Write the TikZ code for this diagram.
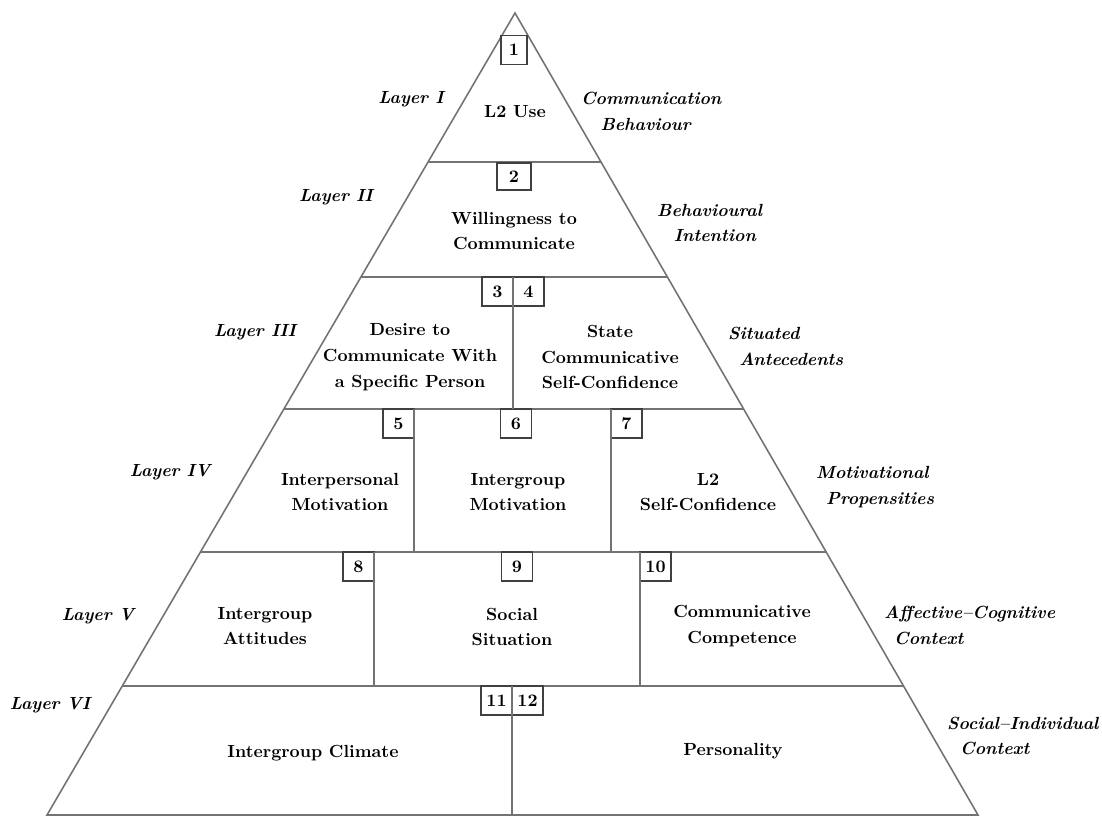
\documentclass[tikz,border=0pt]{standalone}
\usepackage{tikz}
\usetikzlibrary{calc,positioning}

\begin{document}
\begin{tikzpicture}[
  x=0.02cm, y=-0.02cm,
  sep/.style={draw=black!55, line width=0.9pt},
  box/.style={draw=black!75, line width=0.8pt, outer sep=0pt, inner sep=0pt,
    minimum width=0.62cm, minimum height=0.58cm, font=\fontsize{10}{12}\selectfont\bfseries},
  txt/.style={align=center, font=\fontsize{10}{14.7}\selectfont\bfseries},
  lyr/.style={font=\fontsize{10}{12}\selectfont\bfseries\itshape},
  ctx/.style={anchor=west, align=left, font=\fontsize{10}{14.7}\selectfont\bfseries\itshape}
  ]
  \useasboundingbox (0,0) rectangle (1102,817);

  % Pyramid outline
  \coordinate (top) at (515,13);
  \coordinate (bl) at (47,815);
  \coordinate (br) at (978,815);
  \draw[sep] (top) -- (bl) -- (br) -- cycle;

  % Layer borders
  \coordinate (L1) at ($(top)!0.1858!(bl)$);
  \coordinate (R1) at ($(top)!0.1858!(br)$);
  \coordinate (L2) at ($(top)!0.3292!(bl)$);
  \coordinate (R2) at ($(top)!0.3292!(br)$);
  \coordinate (L3) at ($(top)!0.4938!(bl)$);
  \coordinate (R3) at ($(top)!0.4938!(br)$);
  \coordinate (L4) at ($(top)!0.6721!(bl)$);
  \coordinate (R4) at ($(top)!0.6721!(br)$);
  \coordinate (L5) at ($(top)!0.8392!(bl)$);
  \coordinate (R5) at ($(top)!0.8392!(br)$);
  \draw[sep] (L1) -- (R1);
  \draw[sep] (L2) -- (R2);
  \draw[sep] (L3) -- (R3);
  \draw[sep] (L4) -- (R4);
  \draw[sep] (L5) -- (R5);

  % Numbered boxes
  \node[box, minimum width=0.52cm] (n1) at (514,50) {1};
  \node[box, anchor=north, minimum width=0.68cm, minimum height=0.54cm] (n2) at (514,163) {2};
  \node[box, anchor=north east] (n3) at (513,277) {3};
  \node[box, anchor=north west] (n4) at (513,277) {4};
  \node[box, anchor=north east] (n5) at (414,409) {5};
  \node[box, anchor=north] (n6) at (516,409) {6};
  \node[box, anchor=north west] (n7) at (611,409) {7};
  \node[box, anchor=north east] (n8) at (374,552) {8};
  \node[box, anchor=north] (n9) at (517,552) {9};
  \node[box, anchor=north west] (n10) at (640,552) {10};
  \node[box, anchor=north east] (n11) at (512,686) {11};
  \node[box, anchor=north west] (n12) at (512,686) {12};

  % Dividers
  \draw[sep] (n3.north east) -- (n3.north east |- L3);
  \draw[sep] (n5.north east) -- (n5.north east |- L4);
  \draw[sep] (n7.north west) -- (n7.north west |- L4);
  \draw[sep] (n8.north east) -- (n8.north east |- L5);
  \draw[sep] (n10.north west) -- (n10.north west |- L5);
  \draw[sep] (n11.north east) -- (n11.north east |- bl);

  % Contents
  \node[txt] (use) at (515,112) {L2 Use};
  \node[txt] (wtc) at (514,231) {Willingness to\\Communicate};
  \node[txt] (desire) at (410,357) {Desire to\\Communicate With\\a Specific Person};
  \node[txt] (state) at (610,357) {State\\Communicative\\Self-Confidence};
  \node[txt] (inter) at (340,492) {Interpersonal\\Motivation};
  \node[txt] (group) at (518,492) {Intergroup\\Motivation};
  \node[txt] (conf) at (708,492) {L2\\Self-Confidence};
  \node[txt] (att) at (265,626) {Intergroup\\Attitudes};
  \node[txt] (sit) at (512,627) {Social\\Situation};
  \node[txt] (comp) at (742,626) {Communicative\\Competence};
  \node[txt] (clim) at (313,753) {Intergroup Climate};
  \node[txt] (pers) at (733,751) {Personality};

  % Layers
  \node[lyr] (l1) at (411,99) {Layer I};
  \node[lyr] (l2) at (336,197) {Layer II};
  \node[lyr] (l3) at (255,332) {Layer III};
  \node[lyr] (l4) at (170,472) {Layer IV};
  \node[lyr] (l5) at (98,616) {Layer V};
  \node[lyr] (l6) at (50,705) {Layer VI};

  % Contexts
  \node[ctx] (c1) at (575,111) {Communication\\\hspace*{11pt}Behaviour};
  \node[ctx] (c2) at (651,223) {Behavioural\\\hspace*{9.5pt}Intention};
  \node[ctx] (c3) at (722,346) {Situated\\\hspace*{6.3pt}Antecedents};
  \node[ctx] (c4) at (810,487) {Motivational\\\hspace*{5.7pt}Propensities};
  \node[ctx] (c5) at (878,625) {Affective--Cognitive\\\hspace*{5.7pt}Context};
  \node[ctx] (c6) at (941,736) {Social--Individual\\\hspace*{7.4pt}Context};
\end{tikzpicture}
\end{document}
